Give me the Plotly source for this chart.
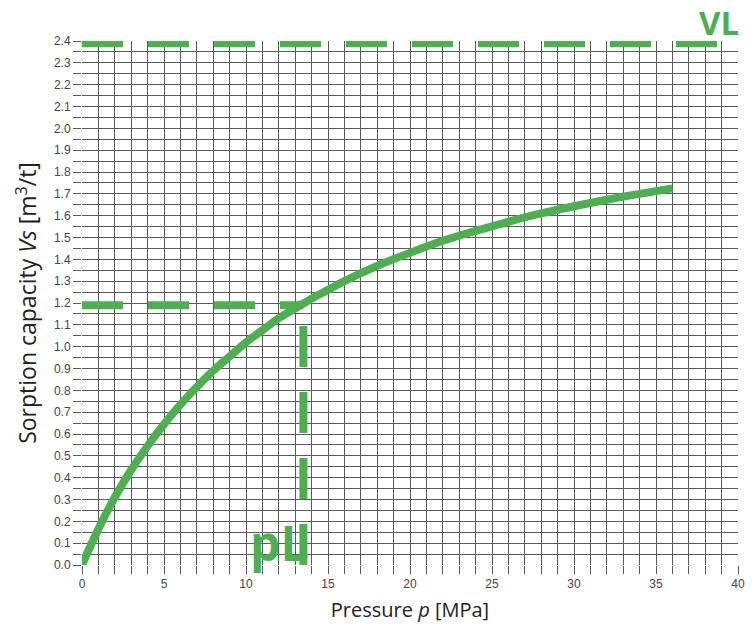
import plotly.graph_objects as go

# Sorption isotherm
pressure = [0, 1, 2, 3, 4, 5, 6, 7, 8, 9, 10, 11, 12, 13, 14, 15, 16, 18, 20, 22, 24, 26, 28, 30, 32, 34, 36]
capacity = [0, 0.165, 0.31, 0.435, 0.545, 0.645, 0.735, 0.815, 0.89, 0.955, 1.02, 1.075, 1.13, 1.175,
            1.22, 1.26, 1.30, 1.37, 1.43, 1.485, 1.53, 1.572, 1.61, 1.643, 1.673, 1.70, 1.725]

VL_value = 2.39
VL_extent = [0, 38.8]
pL_value = 13.5
half_capacity = 1.19

x_grid = list(range(0, 41))
x_labels = [str(v) if v % 5 == 0 else "" for v in x_grid]
y_grid = [round(i * 0.05, 2) for i in range(0, 49)]
y_labels = ["%.1f" % v if i % 2 == 0 else "" for i, v in enumerate(y_grid)]

GREEN = "#4cb050"
DASH = "41px,25px"

fig = go.Figure()
fig.add_trace(go.Scatter(x=VL_extent, y=[VL_value, VL_value], mode="lines",
                         line=dict(color=GREEN, width=8, dash=DASH), hoverinfo="skip"))
fig.add_trace(go.Scatter(x=[0, pL_value], y=[half_capacity, half_capacity], mode="lines",
                         line=dict(color=GREEN, width=8, dash=DASH), hoverinfo="skip"))
fig.add_trace(go.Scatter(x=[pL_value, pL_value], y=[0, half_capacity], mode="lines",
                         line=dict(color=GREEN, width=8, dash=DASH), hoverinfo="skip"))
fig.add_trace(go.Scatter(x=pressure, y=capacity, mode="lines", line_shape="spline",
                         line=dict(color=GREEN, width=8)))

fig.add_annotation(x=40, y=2.4, xref="x", yref="y", text="<b>VL</b>", showarrow=False,
                   xanchor="right", yanchor="bottom", yshift=-6, xshift=3,
                   font=dict(family="Open Sans", size=33, color=GREEN))
fig.add_annotation(x=pL_value, y=0, xref="x", yref="y", text="<b>pL</b>", showarrow=False,
                   xanchor="right", yanchor="bottom", xshift=7, yshift=-12,
                   font=dict(family="Open Sans", size=48, color=GREEN))

GRID = "#5a5a5a"
fig.update_layout(
    width=755, height=626,
    margin=dict(l=74, r=25, t=33, b=69, autoexpand=False),
    paper_bgcolor="white", plot_bgcolor="white",
    showlegend=False,
    font=dict(family="Liberation Sans, Arial", color="#444444"),
    xaxis=dict(range=[0, 40], tickmode="array", tickvals=x_grid, ticktext=x_labels,
               showgrid=True, gridcolor=GRID, gridwidth=1, automargin=False,
               ticks="outside", ticklen=8, tickcolor=GRID, zeroline=False, showline=False,
               tickfont=dict(size=12, color="#444444"),
               title=dict(text="Pressure <i>p</i> [MPa]", standoff=12,
                          font=dict(family="Open Sans", size=20, color="#222222"))),
    yaxis=dict(range=[0, 2.4], tickmode="array", tickvals=y_grid, ticktext=y_labels,
               showgrid=True, gridcolor=GRID, gridwidth=1, automargin=False,
               ticks="outside", ticklen=8, tickcolor=GRID, zeroline=False, showline=False,
               tickfont=dict(size=12, color="#444444"),
               title=dict(text="Sorption capacity <i>Vs</i> [m<sup>3</sup>/t]", standoff=10,
                          font=dict(family="Open Sans", size=23, color="#222222"))),
)

fig.write_html("out.html")
